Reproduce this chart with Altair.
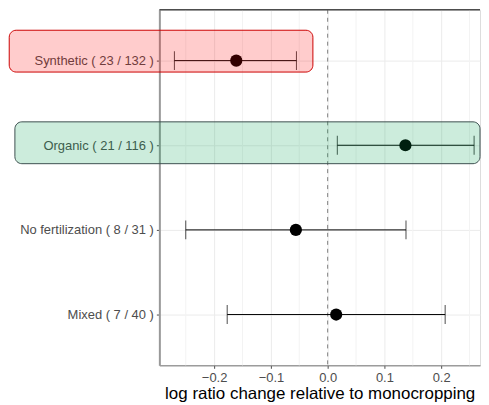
import altair as alt
import pandas as pd

categories = ["Synthetic ( 23 / 132 )", "Organic ( 21 / 116 )",
              "No fertilization ( 8 / 31 )", "Mixed ( 7 / 40 )"]
estimate = [-0.161, 0.137, -0.056, 0.015]
lower = [-0.270, 0.017, -0.250, -0.177]
upper = [-0.055, 0.258, 0.138, 0.207]

major_ticks = [-0.2, -0.1, 0.0, 0.1, 0.2]
minor_grid = [-0.25, -0.15, -0.05, 0.05, 0.15, 0.25]

x_domain = [-0.2965, 0.2684]

# highlight boxes (annotation)
box_cat = ["Synthetic ( 23 / 132 )", "Organic ( 21 / 116 )"]
box_left = [-0.561, -0.551]
box_right = [-0.026, 0.2684]

df = pd.DataFrame({"cat": categories, "est": estimate, "lo": lower, "hi": upper})
minor_df = pd.DataFrame({"x": minor_grid})

W, H = 322, 357

xscale = alt.Scale(domain=x_domain, nice=False, zero=False)
yscale = alt.Scale(type="point", padding=0.6, domain=categories)

xaxis = alt.Axis(values=major_ticks, format=".1f", grid=True, gridColor="#ebebeb",
                 labelFontSize=13, labelColor="#4d4d4d", labelFont="Liberation Sans",
                 tickColor="#4d4d4d", tickSize=3, labelPadding=3,
                 domainColor="#777777", domainWidth=1,
                 title="log ratio change relative to monocropping",
                 titleFontSize=17, titleFont="Liberation Sans", titleFontWeight="normal",
                 titleColor="black", titlePadding=1)
yaxis = alt.Axis(grid=True, gridColor="#ebebeb", labelFontSize=13, labelColor="#4d4d4d",
                 labelFont="Liberation Sans", tickColor="#4d4d4d", tickSize=3,
                 labelPadding=3, domainColor="#999999", domainWidth=2, title=None,
                 labelLimit=300)

base = alt.Chart(df)

minor = alt.Chart(minor_df).mark_rule(color="#f3f3f3", strokeWidth=1).encode(
    x=alt.X("x:Q", scale=xscale, axis=xaxis))

zero = alt.Chart(pd.DataFrame({"z": [0.0]})).mark_rule(
    color="#808080", strokeDash=[4, 4], strokeWidth=1).encode(
    x=alt.X("z:Q", scale=xscale))

top = alt.Chart(pd.DataFrame({"z": [0]})).mark_rule(color="#4d4d4d", strokeWidth=1.5).encode(
    y=alt.value(0))

ebar = base.mark_rule(color="black", strokeWidth=1).encode(
    x=alt.X("lo:Q", scale=xscale, axis=xaxis),
    x2="hi:Q",
    y=alt.Y("cat:N", scale=yscale, axis=yaxis, sort=categories))

cap_lo = base.mark_tick(color="black", thickness=1, size=19, orient="vertical").encode(
    x=alt.X("lo:Q", scale=xscale),
    y=alt.Y("cat:N", scale=yscale, sort=categories))
cap_hi = base.mark_tick(color="black", thickness=1, size=19, orient="vertical").encode(
    x=alt.X("hi:Q", scale=xscale),
    y=alt.Y("cat:N", scale=yscale, sort=categories))

pts = base.mark_point(filled=True, color="black", size=150, opacity=1, shape="circle").encode(
    x=alt.X("est:Q", scale=xscale),
    y=alt.Y("cat:N", scale=yscale, sort=categories))

box_styles = [
    dict(fill="#ff0000", stroke="#cc0000", yOffset=-9.5),
    dict(fill="#00a050", stroke="#3d5050", yOffset=-2.5),
]
boxes = []
for i in range(2):
    bdf = pd.DataFrame({"cat": [box_cat[i]], "l": [box_left[i]], "r": [box_right[i]]})
    st = box_styles[i]
    boxes.append(alt.Chart(bdf).mark_bar(
        size=42, cornerRadius=7, fill=st["fill"], fillOpacity=0.2,
        stroke=st["stroke"], strokeOpacity=1, strokeWidth=1,
        yOffset=st["yOffset"], clip=False).encode(
        x=alt.X("l:Q", scale=xscale),
        x2="r:Q",
        y=alt.Y("cat:N", scale=yscale, sort=categories)))

chart = alt.layer(minor, zero, top, ebar, cap_lo, cap_hi, pts, *boxes).properties(
    width=W, height=H, padding={"left": 0, "top": 0, "right": 0, "bottom": 0}
).configure_view(stroke=None).configure(background="white")

chart.save("out.html", embed_options={"renderer": "svg", "actions": False})
